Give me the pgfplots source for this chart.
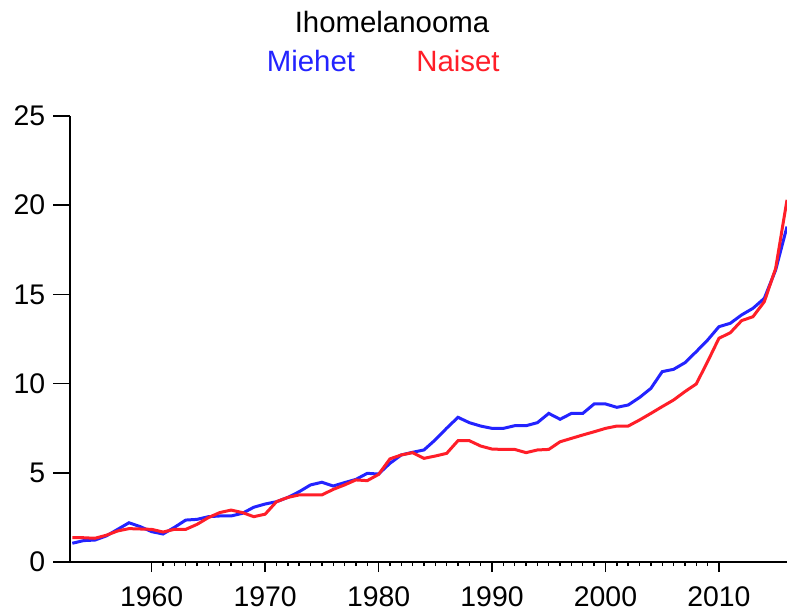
\documentclass[border=0pt]{standalone}
\usepackage{fontspec}
\setmainfont{Liberation Sans}
\usepackage{pgfplots}
\pgfplotsset{compat=1.18}
\definecolor{mblue}{RGB}{35,35,255}
\definecolor{nred}{RGB}{255,30,40}
\pgfplotstableread{
year m n
1953 1.05 1.36
1954 1.20 1.36
1955 1.23 1.33
1956 1.46 1.50
1957 1.83 1.74
1958 2.20 1.87
1959 1.98 1.85
1960 1.70 1.83
1961 1.57 1.68
1962 1.94 1.83
1963 2.35 1.83
1964 2.39 2.11
1965 2.54 2.49
1966 2.58 2.77
1967 2.58 2.91
1968 2.73 2.77
1969 3.07 2.54
1970 3.25 2.68
1971 3.38 3.38
1972 3.62 3.62
1973 3.94 3.76
1974 4.32 3.76
1975 4.47 3.76
1976 4.26 4.07
1977 4.45 4.32
1978 4.63 4.60
1979 4.97 4.56
1980 4.93 4.91
1981 5.53 5.78
1982 6.00 6.00
1983 6.15 6.13
1984 6.28 5.81
1985 6.85 5.94
1986 7.50 6.09
1987 8.11 6.80
1988 7.81 6.80
1989 7.62 6.50
1990 7.49 6.33
1991 7.49 6.31
1992 7.64 6.31
1993 7.64 6.13
1994 7.81 6.28
1995 8.33 6.31
1996 8.00 6.74
1997 8.33 6.93
1998 8.33 7.12
1999 8.86 7.30
2000 8.86 7.49
2001 8.67 7.62
2002 8.80 7.62
2003 9.22 7.96
2004 9.73 8.33
2005 10.67 8.71
2006 10.80 9.08
2007 11.17 9.55
2008 11.79 9.98
2009 12.44 11.23
2010 13.19 12.54
2011 13.38 12.85
2012 13.85 13.53
2013 14.22 13.75
2014 14.78 14.59
2015 16.37 16.46
2016 18.80 20.30
}\datatable
\begin{document}
\begin{tikzpicture}
\useasboundingbox (0bp,0bp) rectangle (787bp,613bp);
\begin{axis}[
  at={(70bp,51bp)}, anchor=south west,
  scale only axis, width=717bp, height=446bp,
  xmin=1952.8, xmax=2016, ymin=0, ymax=25,
  axis lines=left,
  axis line style={-, line width=1.8bp, black},
  xtick={1960,1970,1980,1990,2000,2010},
  xticklabels={1960,1970,1980,1990,2000,2010},
  ytick={0,5,10,15,20,25},
  yticklabels={0,5,10,15,20,25},
  minor x tick num=9,
  tick align=outside,
  xtick style={/pgfplots/major tick length=10bp, line width=1.6bp, black},
  ytick style={/pgfplots/major tick length=17bp, line width=1.6bp, black},
  minor tick length=4bp,
  minor x tick style={line width=1.4bp},
  tick label style={font=\fontsize{28.5}{32}\selectfont, text=black},
  yticklabel style={xshift=-17bp},
  xticklabel style={inner sep=1bp, yshift=-19bp},
  clip=true,
]
\addplot[mblue, line width=3bp] table[x=year, y=m] {\datatable};
\addplot[nred, line width=3bp] table[x=year, y=n] {\datatable};
\end{axis}
\node[anchor=base, font=\fontsize{29.5}{34}\selectfont] at (392bp,580bp) {Ihomelanooma};
\node[anchor=base, font=\fontsize{29.5}{34}\selectfont, text=mblue] at (311bp,541bp) {Miehet};
\node[anchor=base, font=\fontsize{29.5}{34}\selectfont, text=nred] at (458bp,541bp) {Naiset};
\end{tikzpicture}
\end{document}
